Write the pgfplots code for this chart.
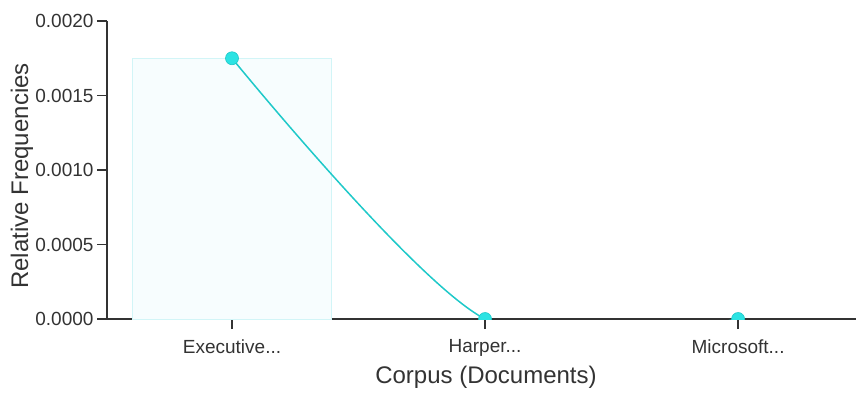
\documentclass[border=0pt]{standalone}
\usepackage{fontspec}
\setmainfont{Liberation Sans}
\usepackage{pgfplots}
\pgfplotsset{compat=1.18}
\definecolor{axisgray}{HTML}{333333}
\definecolor{curvecol}{HTML}{1FC9C9}
\definecolor{markcol}{HTML}{2CE3E3}
\definecolor{barfill}{HTML}{F7FDFE}
\definecolor{bardraw}{HTML}{D2F5F7}
\newcommand{\dd}{.{}.{}.}
\begin{document}
\begin{tikzpicture}
\useasboundingbox (0,0) rectangle (856pt,392pt);
\begin{axis}[
  at={(107pt,73pt)}, anchor=south west,
  width=749pt, height=298pt, scale only axis,
  xmin=-0.494, xmax=2.466,
  ymin=0, ymax=0.002,
  axis x line*=bottom, axis y line*=left,
  axis line style={axisgray, line width=1.6pt, -},
  xtick={0,1,2},
  xticklabels={Executive\dd, Harper\dd, Microsoft\dd},
  ytick={0,0.0005,0.001,0.0015,0.002},
  scaled y ticks=false,
  yticklabel style={/pgf/number format/.cd, fixed, fixed zerofill, precision=4, assume math mode=true},
  xticklabel style={yshift=-7pt},
  tick align=outside,
  major tick length=10pt,
  tick style={axisgray, line width=1.4pt},
  tick label style={font=\fontsize{19}{21}\selectfont, text=axisgray},
  label style={font=\fontsize{24}{27}\selectfont, text=axisgray},
  xlabel={Corpus (Documents)},
  ylabel={Relative Frequencies},
  xlabel style={at={(axis description cs:0.506,-0.195)}, anchor=center},
  ylabel style={at={(axis description cs:-0.1135,0.48)}, anchor=center},
  clip marker paths=true,
]
\addplot[ybar, bar width=199pt, fill=barfill, draw=bardraw, line width=0.8pt] coordinates {(0,0.00175)};
\addplot[smooth, curvecol, line width=1.5pt, mark=*, mark size=6.5pt,
  mark options={fill=markcol, draw=curvecol, line width=0.6pt}]
  coordinates {(0,0.00175) (1,0) (2,0)};
\end{axis}
\end{tikzpicture}
\end{document}
